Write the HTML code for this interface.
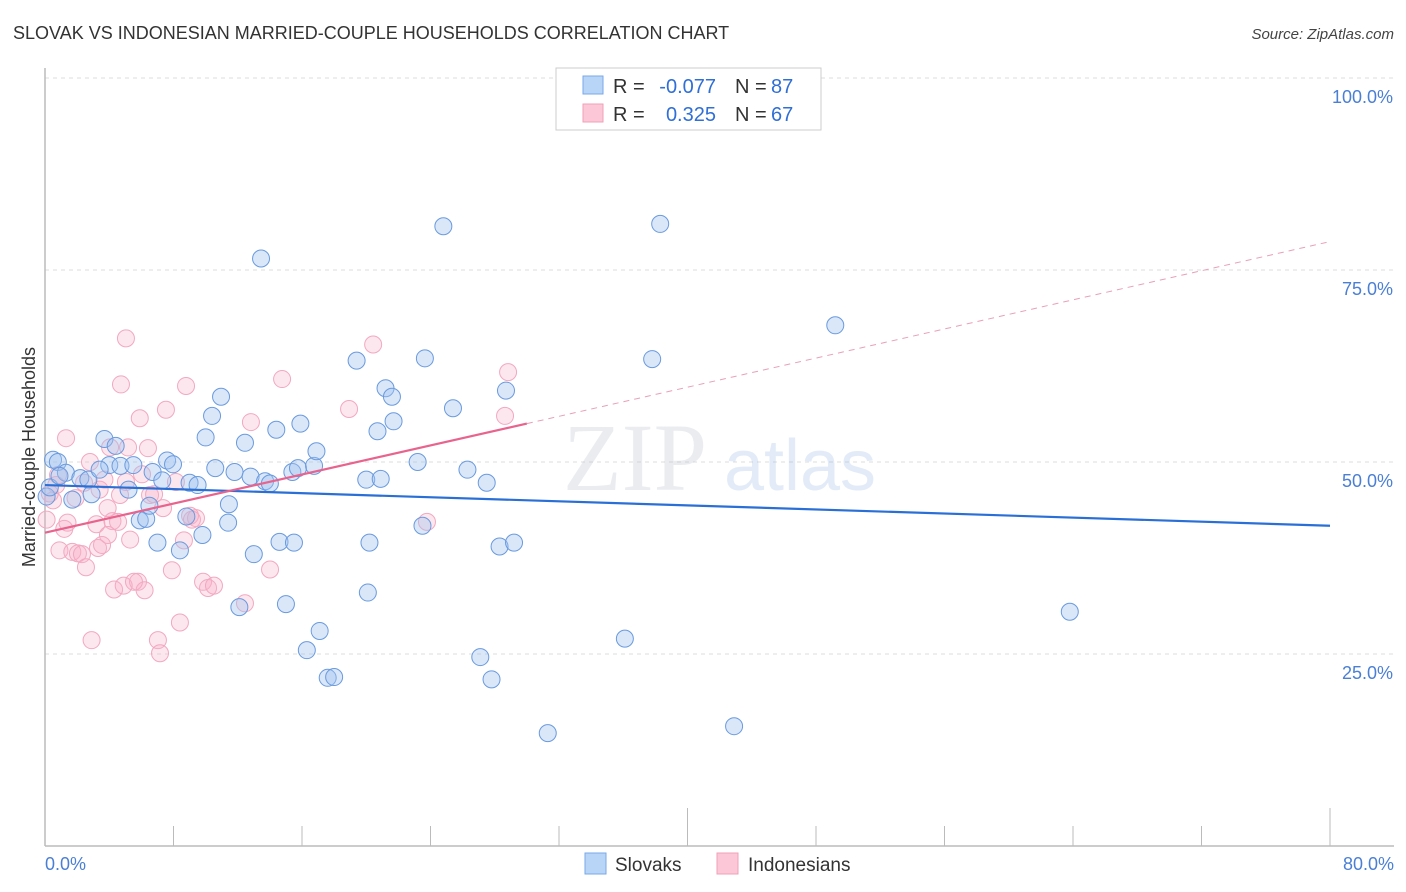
<!DOCTYPE html>
<html><head><meta charset="utf-8"><style>
body{margin:0;background:#fff;font-family:"Liberation Sans",sans-serif}
svg{display:block}
</style></head><body>
<svg id="chart" width="1406" height="892" viewBox="0 0 1406 892">
<text x="13" y="39" font-size="18" fill="#333">SLOVAK VS INDONESIAN MARRIED-COUPLE HOUSEHOLDS CORRELATION CHART</text>
<text x="1394" y="39" font-size="15" font-style="italic" fill="#444" text-anchor="end">Source: ZipAtlas.com</text>
<g id="grid"></g>
<g opacity="0.25">
<text x="635" y="490" font-size="96" font-family="Liberation Serif,serif" fill="#b0b8c4" text-anchor="middle">ZIP</text>
<text x="800" y="490" font-size="72" fill="#8fb4e0" text-anchor="middle">atlas</text>
</g>
<line x1="45" y1="846" x2="1394" y2="846" stroke="#bbb" stroke-width="1.5"/>
<line x1="45" y1="68" x2="45" y2="846" stroke="#bbb" stroke-width="1.5"/>
<g id="ticks"></g>
<text transform="translate(35,457) rotate(-90)" font-size="18" fill="#333" text-anchor="middle">Married-couple Households</text>
<text x="45" y="870" font-size="18" fill="#4a7fd4">0.0%</text>
<text x="1394" y="870" font-size="18" fill="#4a7fd4" text-anchor="end">80.0%</text>
<g id="points"></g>
<g id="trends"></g>
<g font-size="20">
<rect x="556" y="68" width="265" height="62" fill="#fff" stroke="#ccc"/>
<rect x="583" y="76" width="20" height="18" fill="#b8d4f7" stroke="#7aa8e8"/>
<rect x="583" y="104" width="20" height="18" fill="#fcc8d8" stroke="#f0a0b8"/>
<text x="613" y="93" fill="#333">R =</text>
<text x="716" y="93" fill="#2f6fd6" text-anchor="end">-0.077</text>
<text x="735" y="93" fill="#333">N =</text>
<text x="771" y="93" fill="#2f6fd6">87</text>
<text x="613" y="121" fill="#333">R =</text>
<text x="716" y="121" fill="#2f6fd6" text-anchor="end">0.325</text>
<text x="735" y="121" fill="#333">N =</text>
<text x="771" y="121" fill="#2f6fd6">67</text>
</g>
<g>
<rect x="585" y="853" width="21" height="21" fill="#b8d4f7" stroke="#7aa8e8"/>
<text x="615" y="871" font-size="19" fill="#333">Slovaks</text>
<rect x="717" y="853" width="21" height="21" fill="#fcc8d8" stroke="#f0a0b8"/>
<text x="748" y="871" font-size="19" fill="#333">Indonesians</text>
</g>
</svg>
<script>
const yTicks=[25,50,75,100];
const yTickLabels=["25.0%","50.0%","75.0%","100.0%"];
const xTicks=[0,8,16,24,32,40,48,56,64,72,80];
const slovakX=[0.5,0.8,1.3,1.7,2.2,2.7,2.9,3.7,4.0,4.4,4.7,5.2,5.5,5.9,6.3,6.5,6.7,7.0,7.3,7.6,7.97,8.4,8.8,9.0,9.5,9.8,10.0,10.4,10.6,10.96,11.4,11.45,11.8,12.1,12.45,12.8,13.0,13.45,13.7,14.0,14.4,14.6,15.0,15.4,15.5,15.75,15.9,16.3,16.75,16.9,17.1,17.6,18.0,19.4,20.0,20.2,20.1,20.7,20.9,21.2,21.6,21.7,23.2,23.5,23.65,24.8,25.4,26.3,27.1,27.5,27.8,28.3,28.7,29.2,31.3,36.1,37.8,38.3,42.9,49.2,63.8,0.1,0.3,0.9,3.4];
const slovakY=[50.3,50.0,48.6,45.1,47.9,47.7,45.8,53.0,49.6,52.1,49.5,46.4,49.6,42.4,42.6,44.3,48.7,39.5,47.6,50.2,49.7,38.5,42.9,47.3,47.0,40.5,53.2,56.0,49.2,58.5,42.1,44.5,48.7,31.1,52.5,48.1,38.0,76.5,47.5,47.2,54.2,39.6,31.5,48.7,39.5,49.2,55.0,25.5,49.5,51.4,28.0,21.9,22.0,63.2,47.7,39.5,33.0,54.0,47.8,59.6,58.5,55.3,50.0,41.7,63.5,80.7,57.0,49.0,24.6,47.3,21.7,39.0,59.3,39.5,14.7,27.0,63.4,81.0,15.6,67.8,30.5,45.5,46.7,48.2,49.0];
const indoX=[0.1,0.3,0.5,0.7,0.9,1.2,1.4,1.7,1.9,2.05,2.3,2.55,2.8,2.9,3.2,3.3,3.4,3.7,3.9,4.05,4.2,4.3,4.55,4.67,4.9,5.04,5.17,5.3,4.73,5.79,5.9,6.2,6.41,6.54,6.79,7.03,7.16,7.35,7.53,7.9,8.15,8.4,8.65,8.78,9.03,9.15,9.84,10.15,10.52,12.45,12.82,14.01,14.76,18.93,20.43,23.78,28.64,28.83,5.04,6.04,1.31,0.81,2.43,3.92,3.55,5.54,9.4];
const indoY=[42.5,45.9,45.0,47.0,38.5,41.3,42.1,38.3,45.3,38.1,38.0,36.3,50.0,26.8,41.9,38.8,46.4,47.7,44.0,51.9,42.3,33.4,42.2,45.7,33.9,66.1,51.9,39.9,60.1,34.4,55.7,33.3,51.8,45.7,45.8,26.8,25.1,44.0,56.8,35.9,47.4,29.1,39.8,59.9,43.0,42.5,34.4,33.6,33.9,31.6,55.2,36.0,60.8,56.9,65.3,42.2,56.0,61.7,47.4,48.4,53.1,48.3,47.3,40.5,39.2,34.4,42.7];
const slovakTrend=[47.0,41.7];
const indoTrend=[40.8,55.0,78.7];
const NS='http://www.w3.org/2000/svg';
const X=v=>45+v*1285/80, Y=v=>846-v*7.68;
function mk(tag,attrs,parent){const e=document.createElementNS(NS,tag);for(const k in attrs)e.setAttribute(k,attrs[k]);parent.appendChild(e);return e;}
const grid=document.getElementById('grid');
yTicks.forEach((t,i)=>{
 const l=mk('line',{x1:45,x2:1394,y1:Y(t),y2:Y(t),stroke:'#ddd','stroke-dasharray':'4,4'},grid);
 
 
 const tx=mk('text',{x:1393,y:Y(t)+25,'font-size':18,fill:'#4a7fd4','text-anchor':'end'},grid);
 tx.textContent=yTickLabels[i];
 
 
});
const tk=document.getElementById('ticks');
xTicks.forEach(t=>{
 const big=(t===40||t===80||t===0);
 const l=mk('line',{x1:X(t),x2:X(t),y1:big?808:826,y2:846,stroke:'#bbb'},tk);
 
 
});
const pts=document.getElementById('points');
indoX.forEach((x,i)=>{
 const c=mk('circle',{cx:X(x),cy:Y(indoY[i]),r:8.5,fill:'rgba(248,175,200,0.3)',stroke:'#f2a8c0','stroke-width':1},pts);
 
 
});
slovakX.forEach((x,i)=>{
 const c=mk('circle',{cx:X(x),cy:Y(slovakY[i]),r:8.5,fill:'rgba(160,196,240,0.4)',stroke:'#6a9ade','stroke-width':1},pts);
 
 
});
const tr=document.getElementById('trends');
const bl=mk('line',{x1:X(0),y1:Y(slovakTrend[0]),x2:X(80),y2:Y(slovakTrend[1]),stroke:'#2a6fd6','stroke-width':2.2},tr);


const pl=mk('line',{x1:X(0),y1:Y(indoTrend[0]),x2:X(30),y2:Y(indoTrend[1]),stroke:'#e8638e','stroke-width':2.2},tr);


const pd=mk('line',{x1:X(30),y1:Y(indoTrend[1]),x2:X(80),y2:Y(indoTrend[2]),stroke:'#e8a0b8','stroke-width':1,'stroke-dasharray':'6,5'},tr);


</script>
</body></html>
